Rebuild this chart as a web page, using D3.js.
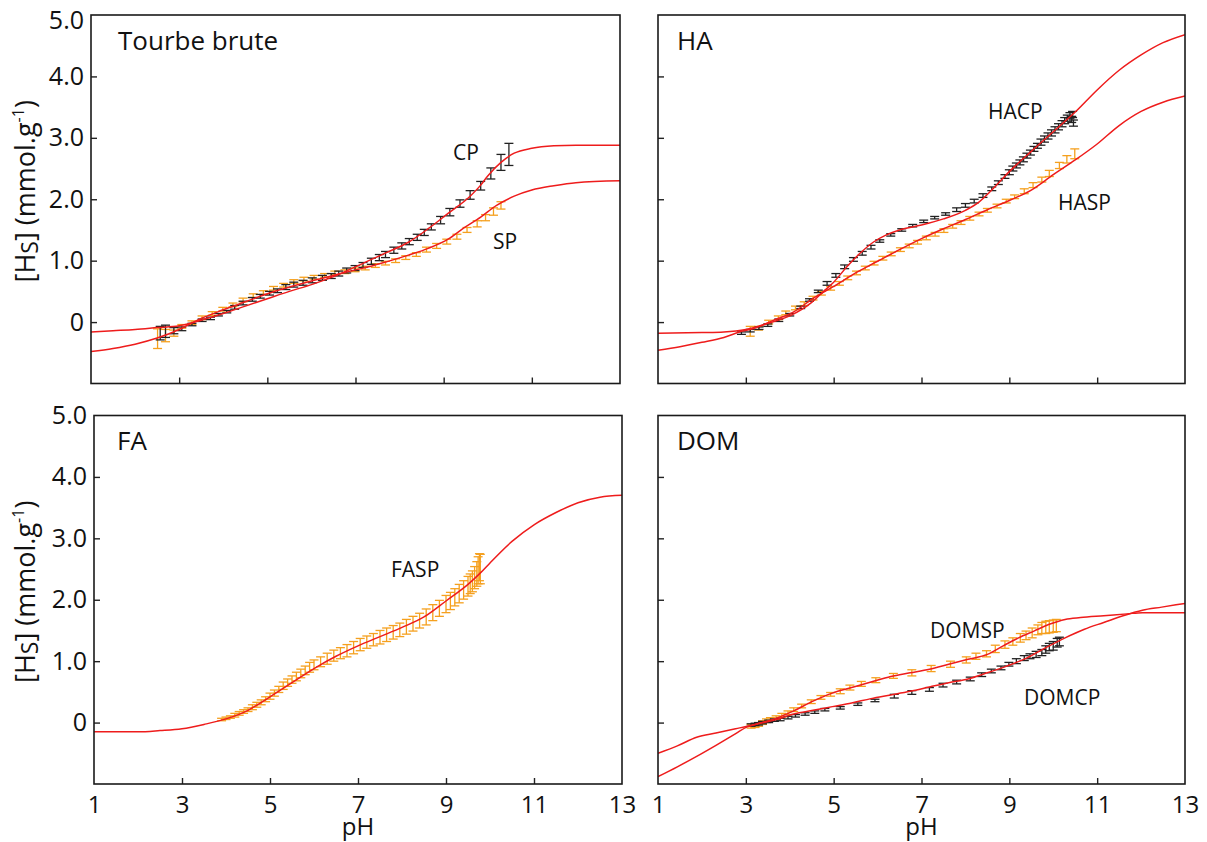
<!DOCTYPE html>
<html><head><meta charset="utf-8">
<script src="https://cdn.jsdelivr.net/npm/d3@7"></script>
<style>
body{margin:0;background:#fff}
svg{display:block}
text{font-family:"Open Sans","DejaVu Sans",sans-serif;fill:#111}
</style>
</head><body>
<svg id="c" width="1207" height="842"></svg>
<script>
// ---------------- DATA ----------------
const xTickValues = [3, 5, 7, 9, 11];
const xTickLabels = [1, 3, 5, 7, 9, 11, 13];
const yTickValues = [0, 1, 2, 3, 4];
const yTickLabels = [0, 1, 2, 3, 4, 5];
const panelTitles = ["Tourbe brute", "HA", "FA", "DOM"];

// Tourbe brute : measured points [pH, value, error]
const tourbeCP = [[2.57,-0.18,0.11],[2.69,-0.15,0.1],[2.88,-0.14,0.05],[3.06,-0.11,0.03],[3.29,-0.04,0.02],[3.52,0.03,0.02],[3.71,0.06,0.02],[3.89,0.12,0.02],[4.08,0.17,0.02],[4.26,0.24,0.03],[4.45,0.31,0.03],[4.66,0.37,0.03],[4.84,0.42,0.03],[5.05,0.47,0.03],[5.23,0.51,0.03],[5.42,0.57,0.04],[5.6,0.61,0.04],[5.81,0.64,0.04],[6.02,0.68,0.04],[6.25,0.72,0.04],[6.45,0.75,0.04],[6.62,0.79,0.04],[6.8,0.84,0.04],[6.99,0.88,0.04],[7.17,0.93,0.04],[7.36,0.99,0.05],[7.54,1.05,0.05],[7.68,1.1,0.05],[7.87,1.17,0.05],[8.05,1.24,0.05],[8.22,1.31,0.05],[8.4,1.38,0.05],[8.56,1.46,0.05],[8.72,1.55,0.05],[8.93,1.66,0.06],[9.14,1.79,0.06],[9.37,1.93,0.06],[9.6,2.07,0.07],[9.84,2.22,0.07],[10.07,2.42,0.09],[10.3,2.6,0.13],[10.48,2.73,0.18]];
const tourbeSP = [[2.51,-0.27,0.16],[2.69,-0.22,0.1],[2.88,-0.18,0.05],[3.06,-0.07,0.03],[3.29,-0.01,0.03],[3.52,0.07,0.03],[3.75,0.14,0.03],[3.99,0.21,0.03],[4.22,0.28,0.03],[4.45,0.36,0.03],[4.68,0.43,0.03],[4.91,0.48,0.03],[5.14,0.55,0.03],[5.37,0.6,0.03],[5.6,0.66,0.03],[5.83,0.7,0.03],[6.06,0.73,0.03],[6.3,0.76,0.03],[6.53,0.8,0.03],[6.76,0.82,0.03],[6.99,0.85,0.03],[7.22,0.88,0.03],[7.45,0.92,0.03],[7.68,0.96,0.03],[7.91,1.0,0.03],[8.14,1.05,0.03],[8.38,1.1,0.03],[8.61,1.18,0.04],[8.84,1.24,0.04],[9.07,1.31,0.04],[9.3,1.39,0.04],[9.53,1.5,0.04],[9.76,1.6,0.05],[9.95,1.7,0.05],[10.13,1.8,0.06],[10.3,1.9,0.06]];
// Tourbe brute : model curves [pH, value]
const tourbeCPfit = [[1,-0.16],[1.5,-0.14],[2,-0.12],[2.5,-0.09],[3,-0.06],[3.3,-0.01],[3.5,0.03],[4,0.14],[4.5,0.26],[5,0.38],[5.5,0.5],[6,0.61],[6.5,0.74],[7,0.9],[7.3,1.0],[7.7,1.13],[8.2,1.3],[8.65,1.52],[9.1,1.77],[9.6,2.05],[9.84,2.23],[10,2.38],[10.3,2.6],[10.6,2.75],[11,2.83],[11.5,2.87],[12,2.88],[13,2.88]];
const tourbeSPfit = [[1,-0.48],[1.5,-0.43],[2,-0.36],[2.5,-0.26],[3,-0.12],[3.3,-0.01],[3.5,0.06],[4,0.2],[4.5,0.33],[5,0.46],[5.5,0.57],[6,0.67],[6.5,0.76],[7,0.85],[7.3,0.9],[7.7,0.98],[8.2,1.09],[8.65,1.2],[9.1,1.35],[9.45,1.53],[9.84,1.71],[10.2,1.9],[10.6,2.05],[11,2.15],[11.5,2.22],[12,2.27],[13,2.3]];

// HA
const haCP = [[2.9,-0.18,0.02],[3.1,-0.14,0.02],[3.3,-0.1,0.02],[3.5,-0.05,0.02],[3.75,0.03,0.02],[4.0,0.12,0.02],[4.25,0.24,0.02],[4.45,0.36,0.02],[4.65,0.5,0.02],[4.85,0.63,0.03],[5.05,0.76,0.03],[5.25,0.9,0.03],[5.45,1.02,0.03],[5.65,1.12,0.03],[5.85,1.22,0.03],[6.05,1.32,0.02],[6.3,1.42,0.02],[6.55,1.5,0.02],[6.8,1.57,0.02],[7.05,1.64,0.02],[7.3,1.7,0.02],[7.55,1.76,0.02],[7.8,1.83,0.03],[8.0,1.9,0.03],[8.2,1.97,0.03],[8.4,2.06,0.03],[8.6,2.17,0.03],[8.75,2.27,0.03],[8.9,2.37,0.03],[9.0,2.44,0.04],[9.08,2.5,0.04],[9.16,2.55,0.04],[9.24,2.6,0.04],[9.32,2.65,0.04],[9.4,2.71,0.04],[9.48,2.76,0.04],[9.56,2.82,0.04],[9.64,2.87,0.04],[9.72,2.93,0.05],[9.8,2.98,0.05],[9.88,3.03,0.05],[9.96,3.08,0.05],[10.04,3.13,0.05],[10.12,3.18,0.05],[10.2,3.23,0.05],[10.26,3.28,0.05],[10.32,3.32,0.05],[10.38,3.36,0.05],[10.42,3.3,0.05],[10.46,3.24,0.05],[10.44,3.38,0.05]];
const haSP = [[3.1,-0.15,0.08],[3.29,-0.1,0.03],[3.52,0.0,0.03],[3.74,0.07,0.03],[3.91,0.15,0.03],[4.13,0.23,0.03],[4.33,0.3,0.03],[4.53,0.39,0.03],[4.72,0.47,0.03],[4.93,0.55,0.03],[5.13,0.63,0.03],[5.32,0.72,0.03],[5.52,0.8,0.03],[5.72,0.88,0.03],[5.92,0.96,0.03],[6.12,1.04,0.03],[6.31,1.11,0.03],[6.52,1.18,0.03],[6.72,1.24,0.03],[6.91,1.3,0.03],[7.11,1.37,0.03],[7.31,1.43,0.03],[7.51,1.49,0.03],[7.71,1.56,0.03],[7.9,1.62,0.03],[8.1,1.69,0.03],[8.31,1.76,0.03],[8.5,1.82,0.03],[8.72,1.89,0.03],[8.93,1.97,0.03],[9.12,2.04,0.03],[9.34,2.13,0.04],[9.54,2.23,0.04],[9.74,2.32,0.04],[9.91,2.42,0.05],[10.14,2.55,0.05],[10.31,2.65,0.06],[10.49,2.74,0.08]];
const haCPfit = [[1,-0.18],[2,-0.17],[2.5,-0.16],[3,-0.12],[3.5,-0.02],[4,0.1],[4.5,0.32],[4.8,0.52],[5,0.65],[5.3,0.9],[5.6,1.12],[5.9,1.3],[6.2,1.42],[6.5,1.5],[7,1.58],[7.5,1.68],[8,1.82],[8.3,1.95],[8.6,2.15],[9,2.45],[9.5,2.78],[10,3.1],[10.5,3.42],[11,3.78],[11.5,4.1],[12,4.35],[12.5,4.55],[13,4.68]];
const haSPfit = [[1,-0.46],[1.5,-0.4],[2,-0.33],[2.5,-0.25],[2.9,-0.15],[3.2,-0.1],[3.6,0.02],[4.1,0.17],[4.5,0.37],[5,0.58],[5.5,0.8],[6,0.99],[6.5,1.18],[7,1.36],[7.5,1.52],[8,1.67],[8.5,1.83],[9,1.98],[9.5,2.15],[10,2.4],[10.5,2.64],[11,2.9],[11.5,3.2],[12,3.43],[12.5,3.58],[13,3.68]];

// FA
const faSP = [[3.9,0.05,0.02],[4.0,0.07,0.02],[4.1,0.09,0.02],[4.2,0.12,0.03],[4.3,0.15,0.03],[4.4,0.18,0.03],[4.5,0.21,0.03],[4.6,0.25,0.04],[4.7,0.29,0.04],[4.8,0.33,0.04],[4.9,0.38,0.04],[5.0,0.43,0.05],[5.1,0.48,0.05],[5.2,0.54,0.05],[5.3,0.6,0.06],[5.4,0.65,0.06],[5.5,0.7,0.06],[5.6,0.75,0.07],[5.7,0.8,0.07],[5.8,0.85,0.07],[5.9,0.9,0.08],[6.0,0.94,0.08],[6.15,0.99,0.08],[6.3,1.04,0.09],[6.45,1.09,0.09],[6.6,1.13,0.09],[6.75,1.17,0.1],[6.9,1.22,0.1],[7.05,1.27,0.1],[7.2,1.31,0.1],[7.35,1.35,0.1],[7.5,1.39,0.11],[7.65,1.43,0.11],[7.8,1.47,0.11],[7.95,1.51,0.11],[8.1,1.56,0.12],[8.25,1.61,0.12],[8.4,1.66,0.12],[8.55,1.72,0.13],[8.7,1.79,0.13],[8.85,1.86,0.13],[9.0,1.93,0.14],[9.1,1.98,0.14],[9.2,2.04,0.14],[9.3,2.1,0.15],[9.4,2.16,0.15],[9.5,2.22,0.16],[9.55,2.26,0.16],[9.6,2.3,0.17],[9.65,2.36,0.18],[9.7,2.42,0.2],[9.73,2.48,0.22],[9.76,2.53,0.22],[9.78,2.5,0.24]];
const faSPfit = [[1,-0.15],[2,-0.15],[2.5,-0.13],[3,-0.1],[3.5,-0.03],[4,0.06],[4.5,0.2],[5,0.42],[5.5,0.65],[6,0.88],[6.5,1.08],[7,1.25],[7.5,1.4],[8,1.55],[8.5,1.72],[9,1.98],[9.5,2.25],[9.8,2.45],[10,2.6],[10.5,2.95],[11,3.22],[11.5,3.42],[12,3.58],[12.5,3.67],[13,3.7]];

// DOM
const domCP = [[3.12,-0.04,0.02],[3.21,-0.03,0.02],[3.29,-0.02,0.02],[3.38,0.0,0.02],[3.52,0.02,0.02],[3.65,0.04,0.02],[3.78,0.05,0.02],[3.96,0.08,0.02],[4.13,0.11,0.02],[4.35,0.14,0.02],[4.57,0.17,0.02],[4.8,0.21,0.02],[5.15,0.24,0.02],[5.55,0.3,0.02],[5.94,0.36,0.02],[6.38,0.43,0.03],[6.78,0.49,0.03],[7.18,0.54,0.03],[7.49,0.61,0.03],[7.8,0.66,0.03],[8.11,0.71,0.03],[8.37,0.78,0.03],[8.59,0.84,0.03],[8.81,0.89,0.03],[8.99,0.95,0.03],[9.16,1.0,0.04],[9.34,1.05,0.04],[9.47,1.08,0.04],[9.61,1.11,0.05],[9.74,1.14,0.05],[9.83,1.19,0.06],[9.91,1.23,0.06],[10.0,1.25,0.07],[10.09,1.3,0.07],[10.14,1.32,0.07]];
const domSP = [[3.12,-0.06,0.03],[3.21,-0.05,0.03],[3.29,-0.03,0.03],[3.38,0.0,0.03],[3.47,0.03,0.03],[3.56,0.05,0.03],[3.69,0.08,0.03],[3.82,0.12,0.03],[3.96,0.16,0.03],[4.09,0.21,0.03],[4.27,0.27,0.03],[4.49,0.34,0.03],[4.71,0.41,0.03],[4.93,0.46,0.03],[5.15,0.51,0.04],[5.37,0.57,0.04],[5.63,0.63,0.04],[5.96,0.69,0.04],[6.36,0.76,0.04],[6.78,0.81,0.05],[7.22,0.88,0.05],[7.66,0.95,0.05],[8.02,1.02,0.05],[8.24,1.08,0.05],[8.48,1.12,0.05],[8.68,1.2,0.06],[8.9,1.27,0.06],[9.08,1.32,0.06],[9.25,1.38,0.07],[9.38,1.42,0.07],[9.52,1.46,0.08],[9.65,1.51,0.08],[9.74,1.54,0.09],[9.83,1.55,0.1],[9.91,1.56,0.1],[10.0,1.57,0.1],[10.07,1.58,0.1]];
const domSPfit = [[1,-0.5],[1.44,-0.38],[1.88,-0.24],[2.32,-0.17],[2.77,-0.1],[3.03,-0.06],[3.21,-0.03],[3.65,0.06],[4.09,0.19],[4.53,0.35],[4.97,0.48],[5.41,0.57],[5.85,0.66],[6.3,0.75],[6.74,0.81],[7.18,0.87],[7.62,0.95],[8.06,1.03],[8.5,1.11],[8.86,1.25],[9.21,1.38],[9.56,1.49],[9.91,1.6],[10.27,1.68],[10.62,1.71],[11.15,1.74],[11.68,1.77],[12.03,1.79],[13,1.79]];
const domCPfit = [[1,-0.88],[1.44,-0.72],[1.88,-0.55],[2.32,-0.37],[2.77,-0.18],[3.03,-0.07],[3.21,-0.03],[3.65,0.04],[4.09,0.14],[4.53,0.2],[4.97,0.26],[5.41,0.32],[5.85,0.39],[6.3,0.45],[6.74,0.51],[7.18,0.58],[7.62,0.65],[8.06,0.71],[8.5,0.81],[8.94,0.92],[9.39,1.05],[9.83,1.22],[10.27,1.38],[10.71,1.52],[11.15,1.63],[11.59,1.74],[12.03,1.83],[12.47,1.88],[13,1.94]];

// ---------------- DRAWING ----------------
const RED = "#ee1c1c", ORANGE = "#f5a01e", BLACK = "#222";
const svg = d3.select("#c");

const panels = [
  {title: panelTitles[0], box: [91, 620, 15, 383.5], left: true, bottom: false, top: true, titlePos: [118, 50],
   series: [{d: tourbeSP, c: ORANGE}, {d: tourbeCP, c: BLACK}], fits: [tourbeCPfit, tourbeSPfit],
   labels: [{t: "CP", x: 453, y: 160}, {t: "SP", x: 493, y: 249}]},
  {title: panelTitles[1], box: [658, 1185, 15, 383.5], left: false, bottom: false, top: true, titlePos: [677, 50],
   series: [{d: haSP, c: ORANGE}, {d: haCP, c: BLACK}], fits: [haCPfit, haSPfit],
   labels: [{t: "HACP", x: 988, y: 119}, {t: "HASP", x: 1058, y: 210}]},
  {title: panelTitles[2], box: [94, 622, 415.5, 784], left: true, bottom: true, top: false, titlePos: [117, 450],
   series: [{d: faSP, c: ORANGE}], fits: [faSPfit],
   labels: [{t: "FASP", x: 391, y: 577}]},
  {title: panelTitles[3], box: [658, 1185, 415.5, 784], left: false, bottom: true, top: false, titlePos: [677, 450],
   series: [{d: domSP, c: ORANGE}, {d: domCP, c: BLACK}], fits: [domSPfit, domCPfit],
   labels: [{t: "DOMSP", x: 930, y: 638}, {t: "DOMCP", x: 1024, y: 705}]}
];

panels.forEach((p, i) => {
  const [x0, x1, y0, y1] = p.box;
  const x = d3.scaleLinear().domain([1, 13]).range([x0, x1]);
  const y = d3.scaleLinear().domain([-1, 5]).range([y1, y0]);
  const g = svg.append("g");

  const clipId = "clip" + i;
  g.append("clipPath").attr("id", clipId).append("rect")
    .attr("x", x0).attr("y", y0).attr("width", x1 - x0).attr("height", y1 - y0);

  // inner tick marks
  const xt = g.append("g").attr("transform", `translate(0,${y1})`)
    .call(d3.axisBottom(x).tickValues(xTickValues).tickSize(-6).tickFormat(""));
  xt.select(".domain").remove();
  xt.selectAll("line").attr("stroke", "#222").attr("stroke-width", 1.4);
  const yt = g.append("g").attr("transform", `translate(${x0},0)`)
    .call(d3.axisLeft(y).tickValues(yTickValues).tickSize(-6).tickFormat(""));
  yt.select(".domain").remove();
  yt.selectAll("line").attr("stroke", "#222").attr("stroke-width", 1.4);

  // tick labels
  if (p.left) {
    const yl = g.append("g").attr("transform", `translate(${x0},0)`)
      .call(d3.axisLeft(y).tickValues(yTickLabels).tickSize(0).tickPadding(7)
        .tickFormat(v => v === 0 ? "0" : v.toFixed(1)));
    yl.select(".domain").remove();
    yl.selectAll("text").attr("font-size", 25).attr("font-family", null).attr("fill", "#111");
    if (p.top) {
      yl.selectAll(".tick").filter(v => v === 5).select("text").attr("y", 5);
    }
    const lab = g.append("text")
      .attr("transform", `translate(35,${(y0 + y1) / 2 - 8}) rotate(-90)`)
      .attr("text-anchor", "middle").attr("font-size", 27);
    lab.append("tspan").text("[H");
    lab.append("tspan").text("S").attr("font-size", 23).attr("dy", 3);
    lab.append("tspan").text("] (mmol.g").attr("dy", -3);
    lab.append("tspan").text("-1").attr("font-size", 16).attr("dy", -11);
    lab.append("tspan").text(")").attr("dy", 11);
  }
  if (p.bottom) {
    const xl = g.append("g").attr("transform", `translate(0,${y1})`)
      .call(d3.axisBottom(x).tickValues(xTickLabels).tickSize(0).tickPadding(12).tickFormat(d3.format("d")));
    xl.select(".domain").remove();
    xl.selectAll("text").attr("font-size", 24).attr("font-family", null).attr("fill", "#111");
    g.append("text").attr("x", (x0 + x1) / 2).attr("y", 835).attr("text-anchor", "middle")
      .attr("font-size", 24).text("pH");
  }

  // error bars
  const cap = 4.5;
  p.series.forEach(s => {
    const eg = g.append("g").attr("stroke", s.c).attr("stroke-width", 1.3).attr("fill", "none");
    const bars = eg.selectAll("g").data(s.d).join("g");
    bars.append("line").attr("x1", d => x(d[0])).attr("x2", d => x(d[0]))
      .attr("y1", d => y(d[1] - d[2])).attr("y2", d => y(d[1] + d[2]));
    bars.append("line").attr("x1", d => x(d[0]) - cap).attr("x2", d => x(d[0]) + cap)
      .attr("y1", d => y(d[1] + d[2])).attr("y2", d => y(d[1] + d[2]));
    bars.append("line").attr("x1", d => x(d[0]) - cap).attr("x2", d => x(d[0]) + cap)
      .attr("y1", d => y(d[1] - d[2])).attr("y2", d => y(d[1] - d[2]));
  });

  // model curves
  const line = d3.line().x(d => x(d[0])).y(d => y(d[1])).curve(d3.curveMonotoneX);
  p.fits.forEach(f => {
    g.append("path").datum(f).attr("d", line).attr("fill", "none")
      .attr("stroke", RED).attr("stroke-width", 1.5).attr("clip-path", `url(#${clipId})`);
  });

  // frame
  g.append("rect").attr("x", x0).attr("y", y0).attr("width", x1 - x0).attr("height", y1 - y0)
    .attr("fill", "none").attr("stroke", "#1a1a1a").attr("stroke-width", 1.6);

  // titles and series labels
  g.append("text").attr("x", p.titlePos[0]).attr("y", p.titlePos[1]).attr("font-size", 26).text(p.title);
  p.labels.forEach(l => {
    g.append("text").attr("x", l.x).attr("y", l.y).attr("font-size", 21).text(l.t);
  });
});
</script>
</body></html>
